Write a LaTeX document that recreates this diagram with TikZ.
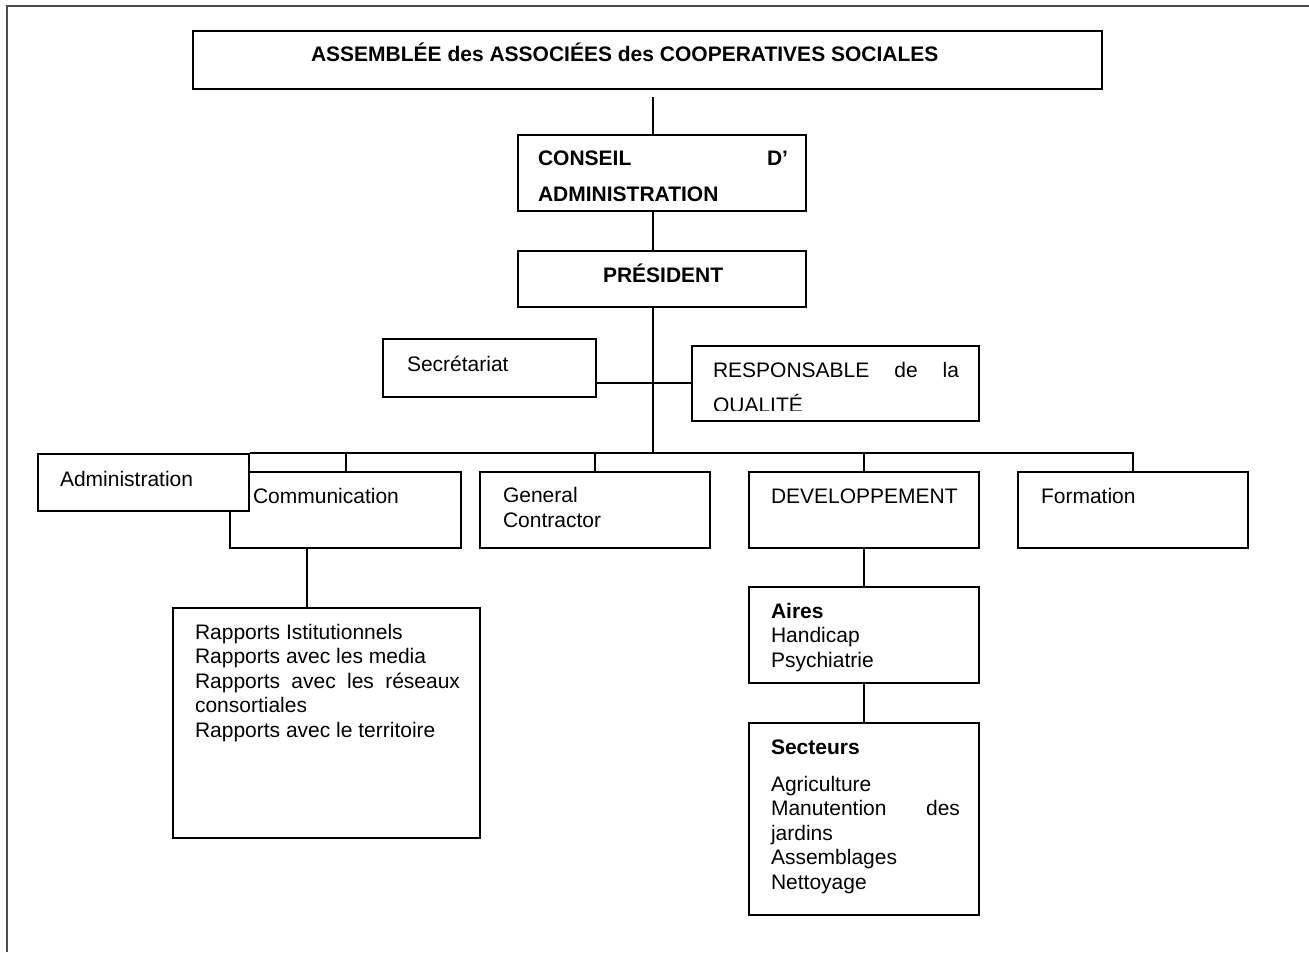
\documentclass[tikz,border=0pt]{standalone}
\usepackage{fontspec}
\setmainfont{Liberation Sans}
\usetikzlibrary{positioning,fit}

\begin{document}
\begin{tikzpicture}[x=0.5pt,y=-0.5pt,line width=1pt,
  box/.style={draw,fill=white,inner sep=0pt},
  txt/.style={anchor=base west,inner sep=0pt,align=left,font=\fontsize{10.5}{12.25}\selectfont},
  wide/.style={font=\fontsize{10.5}{17.5}\selectfont}]

\useasboundingbox (0,0) rectangle (1309,952);
\draw[black!70] (7,952) -- (7,6) -- (1309,6);

% boxes
\node[box,fit={(193,31)(1102,89)}] (assemblee) {};
\node[box,fit={(518,135)(806,211)}] (conseil) {};
\node[box,fit={(518,251)(806,307)}] (president) {};
\node[box,fit={(383,339)(596,397)}] (secr) {};
\node[box,fit={(692,346)(979,421)}] (resp) {};
\node[box,fit={(230,472)(461,548)}] (comm) {};
\node[box,fit={(38,454)(249,511)}] (admin) {};
\node[box,fit={(480,472)(710,548)}] (general) {};
\node[box,fit={(749,472)(979,548)}] (devel) {};
\node[box,fit={(1018,472)(1248,548)}] (form) {};
\node[box,fit={(173,608)(480,838)}] (rapports) {};
\node[box,fit={(749,587)(979,683)}] (aires) {};
\node[box,fit={(749,723)(979,915)}] (secteurs) {};

% texts (base = baseline of the last line)
\node[txt,font=\fontsize{10.5}{12.25}\selectfont\bfseries] (assemblee-t) at (310,62) {ASSEMBLÉE des ASSOCIÉES des COOPERATIVES SOCIALES};
\node[txt,font=\fontsize{10.5}{17.5}\selectfont\bfseries] (conseil-t) at (537,201) {\makebox[125pt][s]{CONSEIL D’}\\ADMINISTRATION};
\node[txt,font=\fontsize{10.5}{12.25}\selectfont\bfseries] (president-t) at (602,282) {PRÉSIDENT};
\node[txt] (secr-t) at (406,371) {Secrétariat};
\begin{scope}
  \clip (692,346) rectangle (979,410);
  \node[txt,wide] (resp-t) at (712,412) {\makebox[123pt][s]{RESPONSABLE de la}\\QUALITÉ};
\end{scope}
\node[txt] (admin-t) at (59,486) {Administration};
\node[txt] (comm-t) at (252,503) {Communication};
\node[txt] (general-t) at (502,527) {General\\Contractor};
\node[txt] (devel-t) at (770,503) {DEVELOPPEMENT};
\node[txt] (form-t) at (1040,503) {Formation};
\node[txt] (rapports-t) at (194,737) {Rapports Istitutionnels\\Rapports avec les media\\\makebox[132.5pt][s]{Rapports avec les réseaux}\\consortiales\\Rapports avec le territoire};
\node[txt] (aires-t) at (770,667) {\textbf{Aires}\\Handicap\\Psychiatrie};
\node[txt] (secteurs-t) at (770,889) {\textbf{Secteurs}\\[6.25pt]Agriculture\\\makebox[94.5pt][s]{Manutention des}\\jardins\\Assemblages\\Nettoyage};

% connectors
\coordinate (top) at (653,97);
\coordinate (bus) at (653,454);
\coordinate (mid) at (653,383);
\coordinate (link) at (307,548);

\draw (top) -- (top |- conseil.north);
\draw (top |- conseil.south) -- (top |- president.north);
\draw (top |- president.south) -- (bus);
\draw (mid -| secr.east) -- (mid -| resp.west);
\draw (admin.north east) -| (form.north);
\foreach \n in {comm,general,devel}
  \draw (\n.north |- bus) -- (\n.north);
\draw (link) -- (link |- rapports.north);
\draw (devel.south) -- (aires.north);
\draw (aires.south) -- (secteurs.north);

\end{tikzpicture}
\end{document}
